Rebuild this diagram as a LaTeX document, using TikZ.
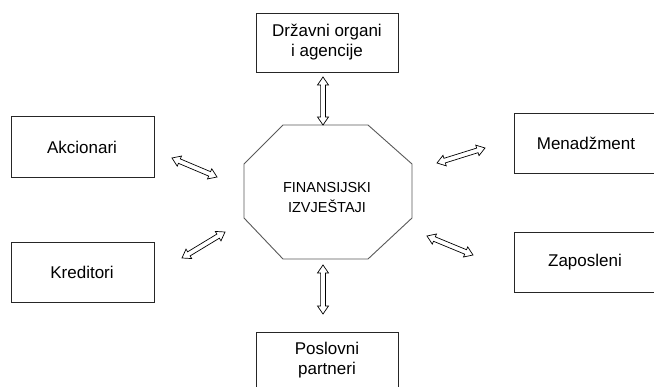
\documentclass[tikz,border=0pt]{standalone}
\usepackage{fontspec}
\setmainfont{Liberation Sans}
\usetikzlibrary{calc}
\newcommand{\hollowarrow}[2]{%
  \draw[harrow] (#1)
    -- ($(#1)!8pt!(#2)!5.5pt!90:(#2)$)
    -- ($(#1)!8pt!(#2)!2.4pt!90:(#2)$)
    -- ($(#2)!8pt!(#1)!2.4pt!-90:(#1)$)
    -- ($(#2)!8pt!(#1)!5.5pt!-90:(#1)$)
    -- (#2)
    -- ($(#2)!8pt!(#1)!5.5pt!90:(#1)$)
    -- ($(#2)!8pt!(#1)!2.4pt!90:(#1)$)
    -- ($(#1)!8pt!(#2)!2.4pt!-90:(#2)$)
    -- ($(#1)!8pt!(#2)!5.5pt!-90:(#2)$)
    -- cycle;}
\begin{document}
\begin{tikzpicture}[x=1pt,y=-1pt,
  box/.style={draw=black!85,line width=0.9pt},
  lbl/.style={inner sep=0pt,align=center,font=\fontsize{17}{20}\selectfont},
  harrow/.style={draw=black,fill=white,line width=0.7pt,line join=miter}]
\clip (0,0) rectangle (654,387);
\fill[white] (0,0) rectangle (654,387);
% boxes
\draw[box] (256,13) rectangle (398,72);
\node[lbl] (drz) at (327,42) {Državni organi\\i agencije};
\draw[box] (11,116) rectangle (154,177);
\node[lbl] (akc) at (82,147) {Akcionari};
\draw[box] (11,242) rectangle (154,302);
\node[lbl] (kre) at (82,272) {Kreditori};
\draw[box] (514,113) rectangle (662,173);
\node[lbl] (men) at (586,143) {Menadžment};
\draw[box] (514,232) rectangle (662,292);
\node[lbl] (zap) at (585,262) {Zaposleni};
\draw[box] (256,332) rectangle (398,400);
\node[lbl] (pos) at (327,360) {Poslovni\\partneri};
% octagon
\draw[draw=black!65,line width=0.9pt] (283,125) -- (368,125) -- (412,164) -- (412,218) -- (368,259) -- (283,259) -- (244,218) -- (244,164) -- cycle;
\node[inner sep=0pt,align=center,font=\fontsize{14.5}{20}\selectfont] (fin) at (327,198) {FINANSIJSKI\\IZVJEŠTAJI};
% arrow ends
\coordinate (t1) at (323,77);  \coordinate (t2) at (323,125);
\coordinate (b1) at (323,265); \coordinate (b2) at (323,314);
\coordinate (a1) at (172,158); \coordinate (a2) at (217,177);
\coordinate (k1) at (182,258); \coordinate (k2) at (225,232);
\coordinate (m1) at (437,163); \coordinate (m2) at (485,148);
\coordinate (z1) at (427,236); \coordinate (z2) at (473,255);
\hollowarrow{t1}{t2}
\hollowarrow{b1}{b2}
\hollowarrow{a1}{a2}
\hollowarrow{k1}{k2}
\hollowarrow{m1}{m2}
\hollowarrow{z1}{z2}
\end{tikzpicture}
\end{document}
